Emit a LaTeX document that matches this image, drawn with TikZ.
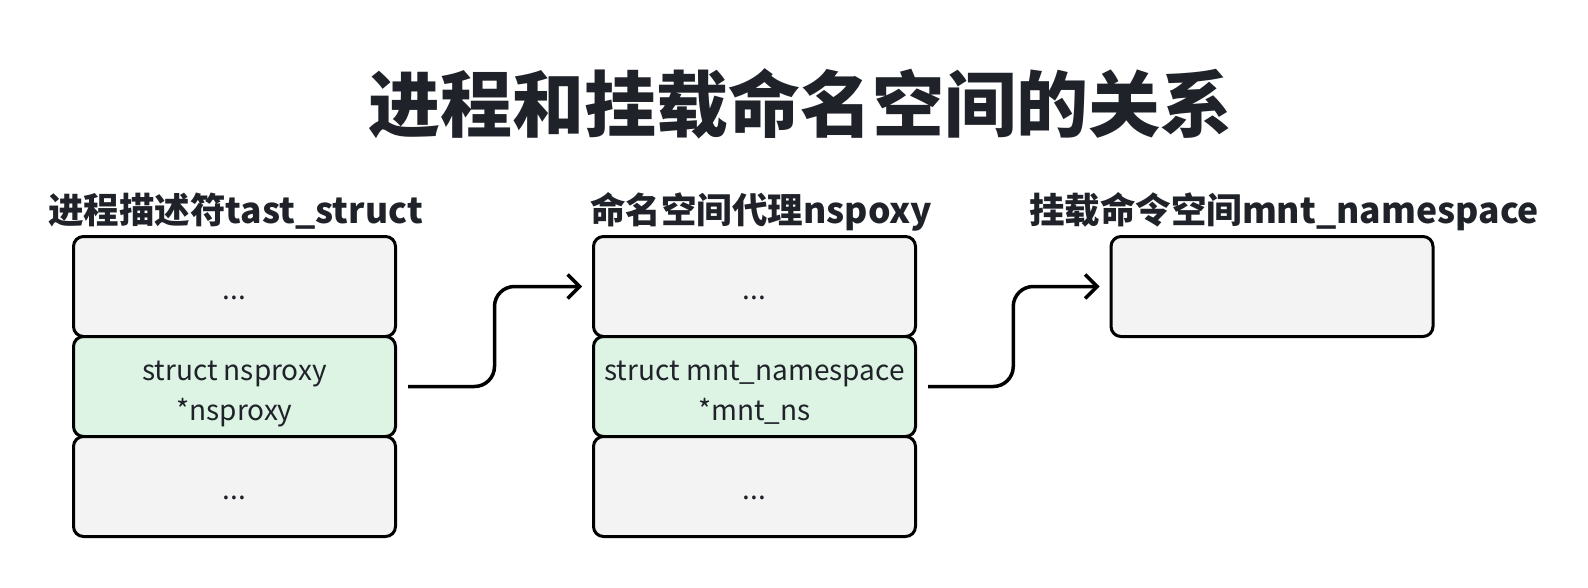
\documentclass[tikz,border=0pt]{standalone}
\usepackage{fontspec}
\setmainfont{Noto Sans CJK SC}
\usetikzlibrary{arrows.meta,positioning,calc}
\definecolor{ink}{HTML}{1F2329}
\definecolor{cellgray}{HTML}{F3F3F3}
\definecolor{cellgreen}{HTML}{DDF4E4}
\begin{document}
\begin{tikzpicture}[x=0.5pt,y=-0.5pt,
  cell/.style={draw=black,line width=1.5pt,rounded corners=5pt,fill=cellgray,minimum width=161pt,minimum height=50pt,inner sep=0pt,align=center,text=ink,font=\fontsize{14}{20}\selectfont,text height=13pt,text depth=0pt},
  ptr/.style={cell,fill=cellgreen,text height=33.5pt},
  head/.style={anchor=base,text=ink,font=\fontsize{17.75}{20}\selectfont\bfseries},
  link/.style={line width=1.75pt,rounded corners=10pt,-{Straight Barb[length=6pt,width=12pt]}}]
\useasboundingbox (0,0) rectangle (1588,588);
\node[anchor=base,text=ink,font=\fontsize{36}{40}\selectfont\bfseries] (title) at (800,132) {进程和挂载命名空间的关系};
\node[cell] (task1) at (234.5,286.5) {...};
\node[ptr]  (task2) at (234.5,386.5) {struct nsproxy\\*nsproxy};
\node[cell] (task3) at (234.5,486.5) {...};
\node[cell] (nsp1) at (754.5,286.5) {...};
\node[ptr]  (nsp2) at (754.5,386.5) {struct mnt\_namespace\\*mnt\_ns};
\node[cell] (nsp3) at (754.5,486.5) {...};
\node[cell] (mnt) at (1272,286.5) {};
\node[head] (taskhead) at (235.5,223) {进程描述符tast\_struct};
\node[head] (nsphead) at (761,223) {命名空间代理nspoxy};
\node[head] (mnthead) at (1284,223) {挂载命令空间mnt\_namespace};
\coordinate (bend1) at ($(task2.east)!0.5!(nsp1.west)$);
\coordinate (bend2) at ($(nsp2.east)!0.5!(mnt.west)$);
\draw[link] ([xshift=5.5pt]task2.east) -| (bend1) |- ([xshift=-5pt]nsp1.west);
\draw[link] ([xshift=5.5pt]nsp2.east) -| (bend2) |- ([xshift=-5pt]mnt.west);
\end{tikzpicture}
\end{document}
